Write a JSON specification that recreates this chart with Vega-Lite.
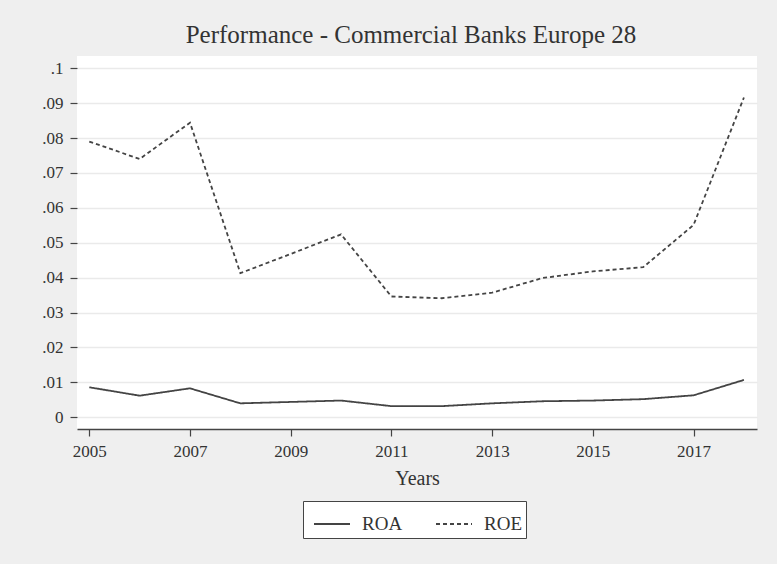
{
  "$schema": "https://vega.github.io/schema/vega-lite/v6.json",
  "width": 680,
  "height": 373,
  "autosize": {"type": "none"},
  "padding": {"left": 77, "top": 56, "right": 20, "bottom": 135},
  "background": "#efefef",
  "title": {
    "text": "Performance - Commercial Banks Europe 28",
    "font": "Liberation Serif",
    "fontSize": 25,
    "fontWeight": "normal",
    "color": "#333333",
    "anchor": "middle",
    "frame": "group",
    "dx": -6,
    "offset": 8
  },
  "config": {
    "view": {"fill": "white", "stroke": null},
    "font": "Liberation Serif"
  },
  "data": {
    "values": [
      {"year": 2005, "series": "ROA", "value": 0.0086},
      {"year": 2006, "series": "ROA", "value": 0.0062},
      {"year": 2007, "series": "ROA", "value": 0.0083},
      {"year": 2008, "series": "ROA", "value": 0.0040},
      {"year": 2009, "series": "ROA", "value": 0.0044},
      {"year": 2010, "series": "ROA", "value": 0.0048},
      {"year": 2011, "series": "ROA", "value": 0.0032},
      {"year": 2012, "series": "ROA", "value": 0.0032},
      {"year": 2013, "series": "ROA", "value": 0.0040},
      {"year": 2014, "series": "ROA", "value": 0.0046},
      {"year": 2015, "series": "ROA", "value": 0.0048},
      {"year": 2016, "series": "ROA", "value": 0.0052},
      {"year": 2017, "series": "ROA", "value": 0.0063},
      {"year": 2018, "series": "ROA", "value": 0.0107},
      {"year": 2005, "series": "ROE", "value": 0.0790},
      {"year": 2006, "series": "ROE", "value": 0.0740},
      {"year": 2007, "series": "ROE", "value": 0.0844},
      {"year": 2008, "series": "ROE", "value": 0.0413},
      {"year": 2009, "series": "ROE", "value": 0.0468},
      {"year": 2010, "series": "ROE", "value": 0.0524},
      {"year": 2011, "series": "ROE", "value": 0.0346},
      {"year": 2012, "series": "ROE", "value": 0.0341},
      {"year": 2013, "series": "ROE", "value": 0.0357},
      {"year": 2014, "series": "ROE", "value": 0.0399},
      {"year": 2015, "series": "ROE", "value": 0.0418},
      {"year": 2016, "series": "ROE", "value": 0.0430},
      {"year": 2017, "series": "ROE", "value": 0.0551},
      {"year": 2018, "series": "ROE", "value": 0.0916}
    ]
  },
  "mark": {"type": "line", "strokeWidth": 1.8, "color": "#444444"},
  "encoding": {
    "x": {
      "field": "year",
      "type": "quantitative",
      "scale": {"domain": [2004.756, 2018.26], "nice": false, "zero": false},
      "axis": {
        "title": "Years",
        "values": [2005, 2007, 2009, 2011, 2013, 2015, 2017],
        "format": "d",
        "grid": false,
        "domainColor": "#444444",
        "domainWidth": 1.5,
        "tickColor": "#444444",
        "tickSize": 7,
        "tickWidth": 1.2,
        "labelFont": "Liberation Serif",
        "labelFontSize": 17,
        "labelColor": "#333333",
        "labelPadding": 7,
        "titleFont": "Liberation Serif",
        "titleFontSize": 20,
        "titleFontWeight": "normal",
        "titleColor": "#333333",
        "titlePadding": 9
      }
    },
    "y": {
      "field": "value",
      "type": "quantitative",
      "scale": {"domain": [-0.00335, 0.1035], "nice": false, "zero": false},
      "axis": {
        "title": null,
        "values": [0, 0.01, 0.02, 0.03, 0.04, 0.05, 0.06, 0.07, 0.08, 0.09, 0.1],
        "labelExpr": "datum.value == 0 ? '0' : replace(format(datum.value, '.2~f'), '0.', '.')",
        "domain": false,
        "grid": true,
        "gridColor": "#eaeaea",
        "gridWidth": 1.5,
        "tickColor": "#444444",
        "tickSize": 7,
        "tickWidth": 1.2,
        "labelFont": "Liberation Serif",
        "labelFontSize": 17,
        "labelColor": "#333333",
        "labelPadding": 7
      }
    },
    "strokeDash": {
      "field": "series",
      "type": "nominal",
      "scale": {"domain": ["ROA", "ROE"], "range": [[1, 0], [4, 3]]},
      "legend": {
        "title": null,
        "orient": "none",
        "direction": "horizontal",
        "legendX": 226,
        "legendY": 445,
        "fillColor": "white",
        "strokeColor": "#444444",
        "padding": 4,
        "symbolType": "M-1,0L1,0",
        "symbolSize": 1296,
        "symbolStrokeWidth": 1.8,
        "symbolStrokeColor": "#444444",
        "labelFont": "Liberation Serif",
        "labelFontSize": 19,
        "labelColor": "#333333",
        "labelOffset": 11,
        "columnPadding": 26,
        "symbolOffset": 6
      }
    }
  }
}
